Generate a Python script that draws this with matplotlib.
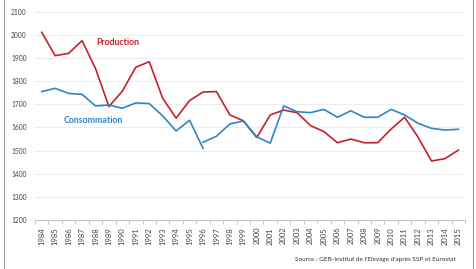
import numpy as np
import matplotlib.pyplot as plt

plt.rcParams["font.family"] = ["Lato", "DejaVu Sans"]

annees = np.arange(1984, 2016)

production = [2011, 1910, 1920, 1975, 1855, 1690, 1757, 1860, 1884, 1726,
              1640, 1716, 1753, 1755, 1654, 1629, 1556, 1654, 1675, 1664,
              1608, 1582, 1534, 1550, 1534, 1534, 1593, 1644, 1558, 1455,
              1465, 1502]

# la consommation a une rupture de série en 1996
conso_avant = [1755, 1769, 1747, 1743, 1693, 1697, 1683, 1706, 1703, 1650,
               1585, 1631, 1510]
conso_apres = [1536, 1562, 1615, 1628, 1560, 1532, 1693, 1668, 1664, 1678,
               1644, 1672, 1644, 1644, 1678, 1654, 1618, 1596, 1589, 1592]

rouge = "#c4212b"
bleu = "#2b87c8"

fig = plt.figure(figsize=(4.77, 2.69), dpi=100)
ax = fig.add_axes([0.0734, 0.182, 0.9016, 0.7745])

x = np.arange(len(annees))
ax.plot(x, production, c=rouge, lw=1.2)
ax.plot(x[:len(conso_avant)], conso_avant, c=bleu, lw=1.2)
ax.plot(x[len(conso_avant) - 1:], conso_apres, c=bleu, lw=1.2)

ax.set_xlim(-0.5, len(annees) - 0.5)
ax.set_ylim(1200, 2100)
ax.set_yticks(np.arange(1200, 2101, 100))
ax.tick_params(axis="y", labelsize=4.8, length=0, pad=6, labelcolor="#444444")
ax.grid(axis="y", color="#ececec", lw=0.7)

ax.set_xticks(x)
ax.set_xticklabels([str(a) for a in annees], rotation=90, fontsize=5.5, color="#444444")
ax.set_xticks(np.arange(-0.5, len(annees)), minor=True)
ax.tick_params(axis="x", which="major", length=0, pad=5)
ax.tick_params(axis="x", which="minor", length=3, color="#bfbfbf", width=0.6)

for s in ["top", "right", "left"]:
    ax.spines[s].set_visible(False)
ax.spines["bottom"].set_color("#bfbfbf")
ax.spines["bottom"].set_linewidth(0.7)
ax.set_axisbelow(True)

ax.text(5.65, 1965, "Production", color=rouge, fontsize=6.3, fontweight="bold", ha="center", va="center")
ax.text(3.85, 1628, "Consommation", color=bleu, fontsize=6.3, fontweight="bold", ha="center", va="center")

fig.text(0.956, 0.035, "Source : GEB-Institut de l'Elevage d'après SSP et Eurostat",
         fontsize=4.6, ha="right", va="center", color="#333333")

# cadre de la capture
fig.add_artist(plt.Line2D([0.008, 0.008], [0, 1], color="#a0a0a0", lw=0.8))
fig.add_artist(plt.Line2D([0.992, 0.992], [0, 1], color="#a0a0a0", lw=0.8))

fig.savefig("out.png", dpi=100)
